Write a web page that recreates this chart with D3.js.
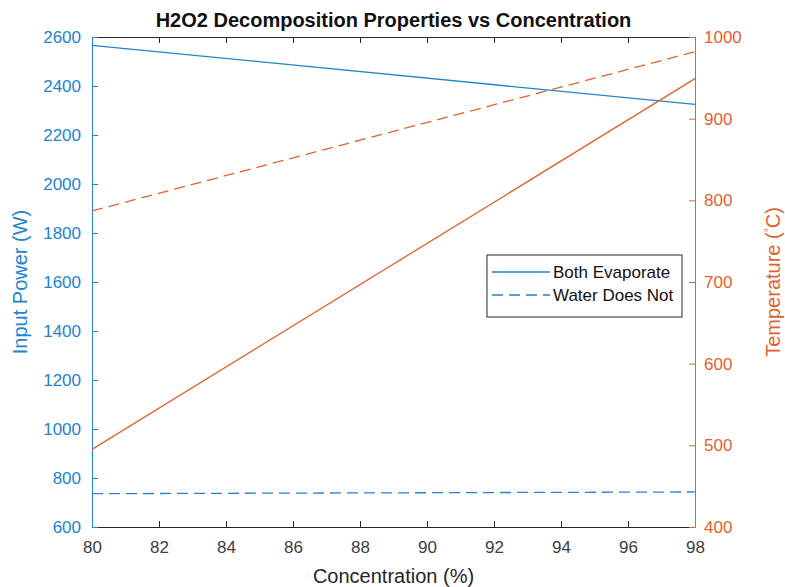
<!DOCTYPE html>
<html>
<head>
<meta charset="utf-8">
<script src="https://cdn.jsdelivr.net/npm/d3@7"></script>
<style>
  body { margin: 0; background: #fff; }
  text { font-family: "Liberation Sans", Arial, sans-serif; }
</style>
</head>
<body>
<svg id="chart"></svg>
<script>
const concentration = [80, 98];
const powerBoth = [2566, 2325];
const powerWater = [736, 743];
const tempBoth = [495, 949];
const tempWater = [787, 982];
const xTicks = [80, 82, 84, 86, 88, 90, 92, 94, 96, 98];
const leftTicks = [600, 800, 1000, 1200, 1400, 1600, 1800, 2000, 2200, 2400, 2600];
const rightTicks = [400, 500, 600, 700, 800, 900, 1000];
const legendLabels = ["Both Evaporate", "Water Does Not"];

const W = 785, H = 587;
const margin = { top: 37, right: 90, bottom: 60, left: 92 };
const blue = "#2383cc";
const orange = "#e0622f";
const axisGray = "#262626";
const fmt = d3.format("d");

const svg = d3.select("#chart").attr("width", W).attr("height", H);

const x = d3.scaleLinear().domain([80, 98]).range([margin.left, W - margin.right]);
const yL = d3.scaleLinear().domain([600, 2600]).range([H - margin.bottom, margin.top]);
const yR = d3.scaleLinear().domain([400, 1000]).range([H - margin.bottom, margin.top]);

const pts = vals => concentration.map((c, i) => ({ c, v: vals[i] }));
const lineL = d3.line().x(d => x(d.c)).y(d => yL(d.v));
const lineR = d3.line().x(d => x(d.c)).y(d => yR(d.v));

// top box line with inward ticks
svg.append("g")
  .attr("transform", `translate(0,${margin.top})`)
  .call(d3.axisTop(x).tickValues(xTicks).tickSizeInner(-6).tickSizeOuter(0).tickFormat(""))
  .call(g => g.selectAll("path, line").attr("stroke", axisGray));

// bottom axis
svg.append("g")
  .attr("transform", `translate(0,${H - margin.bottom})`)
  .call(d3.axisBottom(x).tickValues(xTicks).tickSizeInner(-6).tickSizeOuter(0).tickPadding(14).tickFormat(fmt))
  .call(g => g.selectAll("path, line").attr("stroke", axisGray))
  .call(g => g.selectAll("text").attr("fill", "#404040").style("font-size", "17px"));

// left axis
svg.append("g")
  .attr("transform", `translate(${margin.left},0)`)
  .call(d3.axisLeft(yL).tickValues(leftTicks).tickSizeInner(-6).tickSizeOuter(0).tickPadding(11).tickFormat(fmt))
  .call(g => g.selectAll("path, line").attr("stroke", blue))
  .call(g => g.selectAll("text").attr("fill", blue).style("font-size", "17px"));

// right axis
svg.append("g")
  .attr("transform", `translate(${W - margin.right},0)`)
  .call(d3.axisRight(yR).tickValues(rightTicks).tickSizeInner(-6).tickSizeOuter(0).tickPadding(9).tickFormat(fmt))
  .call(g => g.selectAll("path, line").attr("stroke", orange))
  .call(g => g.selectAll("text").attr("fill", orange).style("font-size", "17px"));

// lines
svg.append("path").datum(pts(powerBoth)).attr("d", lineL)
  .attr("fill", "none").attr("stroke", blue).attr("stroke-width", 1.3);
svg.append("path").datum(pts(powerWater)).attr("d", lineL)
  .attr("fill", "none").attr("stroke", blue).attr("stroke-width", 1.3).attr("stroke-dasharray", "11,6");
svg.append("path").datum(pts(tempBoth)).attr("d", lineR)
  .attr("fill", "none").attr("stroke", orange).attr("stroke-width", 1.3);
svg.append("path").datum(pts(tempWater)).attr("d", lineR)
  .attr("fill", "none").attr("stroke", orange).attr("stroke-width", 1.3).attr("stroke-dasharray", "11,6");

// title
svg.append("text")
  .attr("x", (margin.left + W - margin.right) / 2).attr("y", 27)
  .attr("text-anchor", "middle")
  .style("font-size", "20px").style("font-weight", "bold").attr("fill", "#111")
  .text("H2O2 Decomposition Properties vs Concentration");

// axis labels
svg.append("text")
  .attr("x", (margin.left + W - margin.right) / 2).attr("y", 583)
  .attr("text-anchor", "middle").style("font-size", "20px").attr("fill", "#262626")
  .text("Concentration (%)");

svg.append("text")
  .attr("transform", `translate(27,${(margin.top + H - margin.bottom) / 2}) rotate(-90)`)
  .attr("text-anchor", "middle").style("font-size", "20px").attr("fill", blue)
  .text("Input Power (W)");

const tLabel = svg.append("text")
  .attr("transform", `translate(780,${(margin.top + H - margin.bottom) / 2}) rotate(-90)`)
  .attr("text-anchor", "middle").style("font-size", "20px").attr("fill", orange);
tLabel.append("tspan").text("Temperature (");
tLabel.append("tspan").attr("dy", -8).style("font-size", "10px").text("°");
tLabel.append("tspan").attr("dy", 8).text("C)");

// legend
const leg = svg.append("g").attr("transform", "translate(487,255)");
leg.append("rect").attr("width", 195).attr("height", 62)
  .attr("fill", "#fff").attr("stroke", "#262626").attr("stroke-width", 1);
legendLabels.forEach((lab, i) => {
  const yy = 17 + i * 23;
  leg.append("line").attr("x1", 5).attr("x2", 63).attr("y1", yy).attr("y2", yy)
    .attr("stroke", blue).attr("stroke-width", 1.3)
    .attr("stroke-dasharray", i === 1 ? "11,6" : null);
  leg.append("text").attr("x", 66).attr("y", yy + 6)
    .style("font-size", "17px").attr("fill", "#111").text(lab);
});
</script>
</body>
</html>
